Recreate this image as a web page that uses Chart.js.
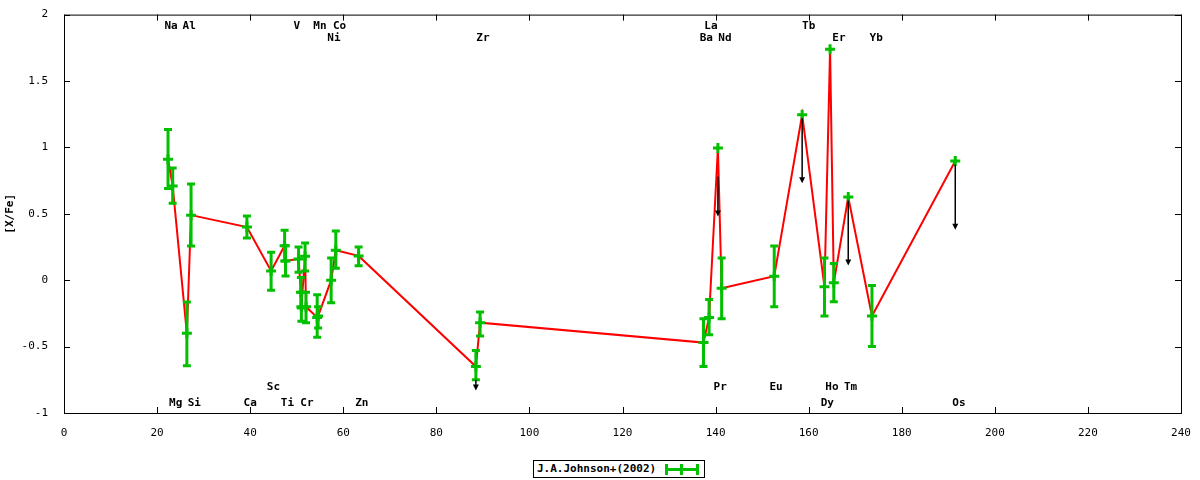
<!DOCTYPE html>
<html><head><meta charset="utf-8">
<script src="https://cdn.jsdelivr.net/npm/chart.js@4"></script>
<style>body{margin:0;background:#fff}#w{position:relative;width:1200px;height:480px}
#lg{position:absolute;left:533px;top:460px;border:1px solid #000;font:bold 11px "DejaVu Sans Mono",monospace;padding:1px 3px;height:14px;line-height:14px;background:#fff}
#lg span{display:inline-block;vertical-align:middle}</style></head>
<body><div id="w"><canvas id="c" width="1200" height="480"></canvas>
<div id="lg"><span>J.A.Johnson+(2002)</span> <span style="position:relative;width:38px;height:14px"><span style="position:absolute;left:2px;top:6px;width:34px;height:3px;background:#00c000"></span><span style="position:absolute;left:2px;top:2px;width:3px;height:11px;background:#00c000"></span><span style="position:absolute;left:33px;top:2px;width:3px;height:11px;background:#00c000"></span><span style="position:absolute;left:17px;top:2px;width:3px;height:11px;background:#00c000"></span></span></div></div>
<script>
const massX = [22.35,23.35,26.4,27.3,39.3,44.5,47.4,47.6,50.4,50.9,51.0,51.8,52.0,54.4,54.6,57.4,58.4,63.3,88.5,89.4,137.4,138.6,140.5,141.3,152.6,158.6,163.4,164.6,165.4,168.5,173.6,191.5];
const abund = [0.91,0.71,-0.40,0.49,0.40,0.07,0.26,0.145,0.16,-0.09,-0.2,0.18,-0.2,-0.28,-0.27,0.0,0.226,0.183,-0.65,-0.32,-0.47,-0.28,0.995,-0.06,0.03,1.246,-0.05,1.74,-0.02,0.626,-0.27,0.897];
const errHi = [1.135,0.844,-0.165,0.724,0.484,0.21,0.376,0.26,0.25,0.02,-0.09,0.28,-0.09,-0.11,-0.2,0.168,0.37,0.25,-0.53,-0.24,-0.29,-0.145,null,0.168,0.258,null,0.168,null,0.125,null,-0.04,null];
const errLo = [0.69,0.58,-0.644,0.258,0.318,-0.075,0.145,0.032,0.06,-0.21,-0.31,0.07,-0.32,-0.43,-0.36,-0.17,0.09,0.108,-0.75,-0.42,-0.65,-0.41,null,-0.29,-0.2,null,-0.27,null,-0.163,null,-0.5,null];
const arrowX = [88.5,140.5,158.6,168.5,191.5];
const arrowFrom = [-0.75,0.78,1.22,0.6,0.87];
const arrowTo = [-0.83,0.48,0.73,0.11,0.38];
const labelText = ["Na","Al","V","Mn","Co","La","Tb","Ni","Zr","Ba","Nd","Er","Yb","Sc","Pr","Eu","Ho","Tm","Mg","Si","Ca","Ti","Cr","Zn","Dy","Os"];
const labelX = [23,26.9,50,55,59.2,139,160,58,90,138,142,166.5,174.5,45,141,153,165,169,24,28,40,48,52.2,64,164,192.3];
const labelY = [1.91,1.91,1.91,1.91,1.91,1.91,1.91,1.82,1.82,1.82,1.82,1.82,1.82,-0.805,-0.805,-0.805,-0.805,-0.805,-0.925,-0.925,-0.925,-0.925,-0.925,-0.925,-0.925,-0.925];
const xTicks=[0,20,40,60,80,100,120,140,160,180,200,220,240];
const yTicks=[-1,-0.5,0,0.5,1,1.5,2];
const FONT='"DejaVu Sans Mono", monospace';
const G='#00c000';
const deco={id:'deco',
 beforeDatasetsDraw(ch){const c=ch.ctx,x=ch.scales.x,y=ch.scales.y,a=ch.chartArea;
  c.save();c.strokeStyle='#000';c.lineWidth=1;c.strokeRect(a.left+0.5,a.top+0.5,a.right-a.left,a.bottom-a.top);
  c.beginPath();xTicks.forEach(t=>{const p=Math.round(x.getPixelForValue(t))+0.5;c.moveTo(p,a.bottom);c.lineTo(p,a.bottom-6);c.moveTo(p,a.top);c.lineTo(p,a.top+6);});
  yTicks.forEach(t=>{const p=Math.round(y.getPixelForValue(t))+0.5;c.moveTo(a.left,p);c.lineTo(a.left+6,p);c.moveTo(a.right,p);c.lineTo(a.right-6,p);});c.stroke();
  c.fillStyle='#000';c.font='bold 11px '+FONT;c.textAlign='center';c.textBaseline='middle';
  labelText.forEach((s,i)=>c.fillText(s,x.getPixelForValue(labelX[i]),y.getPixelForValue(labelY[i])));
  c.restore();},
 afterDatasetsDraw(ch){const c=ch.ctx,x=ch.scales.x,y=ch.scales.y;c.save();
  c.strokeStyle=G;c.lineWidth=3;
  massX.forEach((m,i)=>{if(errHi[i]==null)return;const px=x.getPixelForValue(m),t=y.getPixelForValue(errHi[i]),b=y.getPixelForValue(errLo[i]);
   c.beginPath();c.moveTo(px,t);c.lineTo(px,b);c.moveTo(px-4,t);c.lineTo(px+4,t);c.moveTo(px-4,b);c.lineTo(px+4,b);c.stroke();});
  c.strokeStyle='#000';c.fillStyle='#000';c.lineWidth=1.5;
  arrowX.forEach((m,i)=>{const px=x.getPixelForValue(m),f=y.getPixelForValue(arrowFrom[i]),t=y.getPixelForValue(arrowTo[i]);
   c.beginPath();c.moveTo(px,f);c.lineTo(px,t-4);c.stroke();c.beginPath();c.moveTo(px-3,t-6);c.lineTo(px+3,t-6);c.lineTo(px,t);c.closePath();c.fill();});
  c.restore();}};
new Chart(document.getElementById('c'),{type:'line',
 data:{datasets:[{data:massX.map((m,i)=>({x:m,y:abund[i]})),borderColor:'#ff0000',borderWidth:2,pointStyle:'cross',pointRadius:5,pointBorderWidth:3,pointBorderColor:G,tension:0}]},
 options:{responsive:false,animation:false,layout:{padding:{top:14,right:19,left:0,bottom:0}},
  plugins:{legend:{display:false},tooltip:{enabled:false}},
  scales:{x:{type:'linear',min:0,max:240,grid:{display:false},border:{display:false},
     afterBuildTicks:s=>{s.ticks=xTicks.map(v=>({value:v}));},afterFit:s=>{s.height=67;},
     ticks:{color:'#000',font:{family:FONT,size:11},padding:6,maxRotation:0,callback:v=>String(v)},
     title:{display:true,text:'Mass Number',color:'#000',font:{family:FONT,size:11,weight:'bold'},padding:{top:2}}},
   y:{min:-1,max:2,grid:{display:false},border:{display:false},
     afterBuildTicks:s=>{s.ticks=yTicks.map(v=>({value:v}));},afterFit:s=>{s.width=64;},
     ticks:{color:'#000',font:{family:FONT,size:11},padding:8,callback:v=>String(v)},
     title:{display:true,text:'[X/Fe]',color:'#000',font:{family:FONT,size:11,weight:'bold'},padding:{bottom:12}}}}},
 plugins:[deco]});
</script></body></html>
